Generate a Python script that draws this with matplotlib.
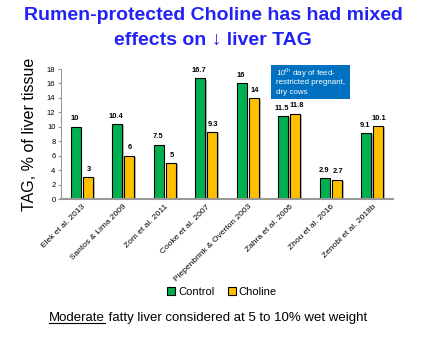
import matplotlib
matplotlib.use("Agg")
import matplotlib.pyplot as plt
import matplotlib.patheffects as pe
import numpy as np

plt.rcParams['font.family'] = ['Liberation Sans', 'DejaVu Sans']
plt.rcParams['mathtext.fontset'] = 'custom'
plt.rcParams['mathtext.rm'] = 'Liberation Sans'

studies = ['Elek et al. 2013', 'Santos & Lima 2009', 'Zom et al. 2011',
           'Cooke et al. 2007', 'Piepenbrink & Overton 2003', 'Zahra et al. 2006',
           'Zhou et al. 2016', 'Zenobi et al. 2018b']
control = [10, 10.4, 7.5, 16.7, 16, 11.5, 2.9, 9.1]
choline = [3, 6, 5, 9.3, 14, 11.8, 2.7, 10.1]
control_lbl = ['10', '10.4', '7.5', '16.7', '16', '11.5', '2.9', '9.1']
choline_lbl = ['3', '6', '5', '9.3', '14', '11.8', '2.7', '10.1']

W, H = 426, 341
fig = plt.figure(figsize=(W/100, H/100), dpi=100)
ax = fig.add_axes([61/W, 1 - 199/H, 332/W, 130/H])

def fy(py):
    return 1 - py/H

x = np.arange(len(studies))
w = 0.24
shadow = [pe.SimplePatchShadow(offset=(1.2, -0.8), shadow_rgbFace='#888888', alpha=0.6), pe.Normal()]
b1 = ax.bar(x - 0.15, control, w, color='#00B050', edgecolor='black', linewidth=0.8,
            label='Control', path_effects=shadow)
b2 = ax.bar(x + 0.15, choline, w, color='#FFC000', edgecolor='black', linewidth=0.8,
            label='Choline', path_effects=shadow)

for xi, v, s in zip(x - 0.17, control, control_lbl):
    ax.text(xi, v + 0.6, s, ha='center', va='bottom', fontsize=5.4, fontweight='bold')
for xi, v, s in zip(x + 0.17, choline, choline_lbl):
    ax.text(xi, v + 0.6, s, ha='center', va='bottom', fontsize=5.4, fontweight='bold')

ax.set_xlim(-0.5, len(studies) - 0.5)
ax.set_ylim(0, 18)
ax.set_yticks(range(0, 19, 2))
ax.tick_params(axis='y', labelsize=5.5, length=2, color='#999999', pad=2)
ax.set_xticks(x)
ax.set_xticklabels(studies, rotation=45, ha='right', rotation_mode='anchor', fontsize=6)
ax.tick_params(axis='x', length=0, pad=3)
for side in ['top', 'right']:
    ax.spines[side].set_visible(False)
ax.spines['left'].set_color('#999999')
ax.spines['bottom'].set_color('#999999')
ax.spines['bottom'].set_linewidth(1.5)

ax.set_ylabel('TAG, % of liver tissue', fontsize=11.5, labelpad=7)

# info box
fig.add_artist(plt.Rectangle((271/W, fy(99)), 79/W, 34/H, transform=fig.transFigure,
                             facecolor='#0070C0', edgecolor='none'))
box_lines = ['10$^{\\mathrm{th}}$ day of feed-', 'restricted pregnant,', 'dry cows']
for py, s in zip([73, 83, 92], box_lines):
    fig.text(276/W, fy(py), s, fontsize=5.8, color='white', va='center', ha='left')

fig.text(0.5, fy(16), 'Rumen-protected Choline has had mixed',
         ha='center', va='center', fontsize=14, fontweight='bold', color='#2222F5')
fig.text(0.5, fy(40), 'effects on \u2193 liver TAG',
         ha='center', va='center', fontsize=14, fontweight='bold', color='#2222F5')

fig.legend(handles=[b1, b2], loc='center', bbox_to_anchor=(222/W, fy(292)),
           ncol=2, frameon=False, fontsize=8, handlelength=0.7, handleheight=0.7,
           handletextpad=0.3, columnspacing=1.2)

t1 = fig.text(49/W, fy(318), 'Moderate', fontsize=9.5, va='center', ha='left')
fig.canvas.draw()
r = fig.canvas.get_renderer()
bb = t1.get_window_extent(r).transformed(fig.transFigure.inverted())
fig.text(bb.x1, fy(318), ' fatty liver considered at 5 to 10% wet weight',
         fontsize=9.5, va='center', ha='left')
fig.add_artist(plt.Line2D([bb.x0, bb.x1], [bb.y0 + 0.004, bb.y0 + 0.004],
                          color='black', linewidth=0.8, transform=fig.transFigure))

fig.savefig('out.png', dpi=100)
